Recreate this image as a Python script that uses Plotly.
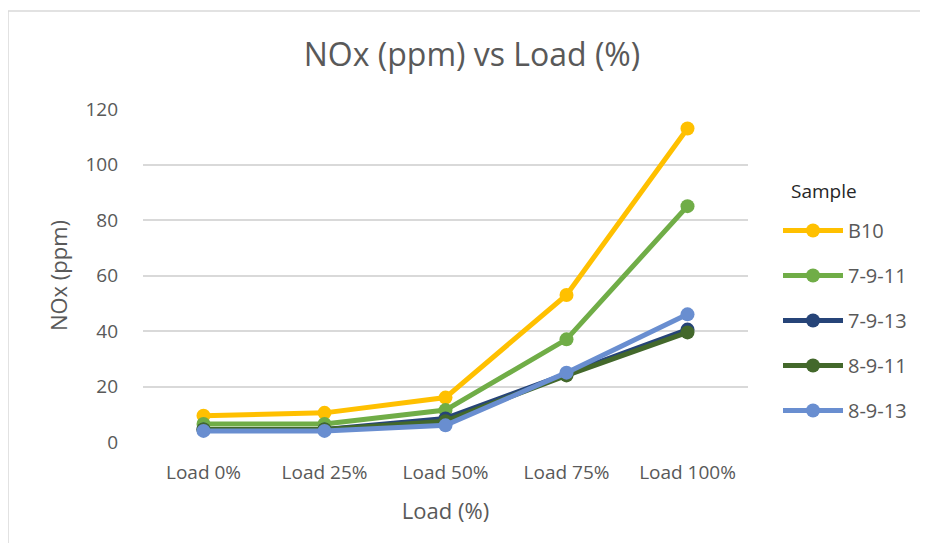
import plotly.graph_objects as go

categories = ["Load 0%", "Load 25%", "Load 50%", "Load 75%", "Load 100%"]
series_names = ["B10", "7-9-11", "7-9-13", "8-9-11", "8-9-13"]
b10 = [9.5, 10.5, 16, 53, 113]
s_7_9_11 = [6.5, 6.5, 11.5, 37, 85]
s_7_9_13 = [4.5, 4.5, 8.5, 24.5, 40.5]
s_8_9_11 = [4.5, 4.5, 7.5, 24, 39.5]
s_8_9_13 = [4, 4, 6, 25, 46]
y_ticks = [0, 20, 40, 60, 80, 100, 120]

colors = ["#FFC000", "#70AD47", "#264478", "#43682B", "#698ED0"]
values = [b10, s_7_9_11, s_7_9_13, s_8_9_11, s_8_9_13]

OFF = 8  # browser body margin
W, H = 920, 535
L, T = 143 - OFF, 109 - OFF
R = W - (748 - OFF)
B = H - (442 - OFF)
pw, ph = W - L - R, H - T - B

fig = go.Figure()
for name, vals, col in zip(series_names, values, colors):
    fig.add_trace(go.Scatter(
        x=categories, y=vals, name=name, mode="lines+markers",
        line=dict(color=col, width=5), marker=dict(color=col, size=14),
        legendgroup=name,
    ))

font = "Open Sans"
grey = "#595959"

def px_x(x):
    return (x - OFF - L) / pw

def px_y(y):
    return 1 - (y - OFF - T) / ph

def cx(x):
    return (x - OFF) / W

def cy(y):
    return 1 - (y - OFF) / H

fig.update_layout(
    width=W, height=H,
    margin=dict(l=L, r=R, t=T, b=B),
    paper_bgcolor="white", plot_bgcolor="white",
    title=dict(text="NOx (ppm) vs Load (%)", x=cx(472), xanchor="center",
               y=cy(55), yanchor="middle",
               font=dict(family=font, size=32, color=grey)),
    xaxis=dict(showgrid=False, showline=False, zeroline=False, ticks="",
               tickfont=dict(family=font, size=19, color=grey), ticklabelstandoff=17,
               title=dict(text="Load (%)", font=dict(family=font, size=22, color=grey), standoff=19),
               range=[-0.5, 4.5]),
    yaxis=dict(range=[0, 120], tickvals=y_ticks, showgrid=True, gridcolor="#D9D9D9", gridwidth=2,
               zeroline=False, showline=False, ticks="",
               tickfont=dict(family=font, size=19, color=grey), ticklabelstandoff=24,
               title=dict(text="NOx (ppm)", font=dict(family=font, size=22, color=grey), standoff=11)),
    legend=dict(xref="container", yref="container", x=cx(778), xanchor="left",
                y=cy(211), yanchor="top",
                font=dict(family=font, size=20, color=grey),
                traceorder="grouped", tracegroupgap=16, itemwidth=60),
    annotations=[dict(text="Sample", xref="paper", yref="paper", x=px_x(789), y=px_y(191),
                      xanchor="left", yanchor="middle", showarrow=False,
                      font=dict(family=font, size=19, color="#262626"))],
    shapes=[
        dict(type="line", xref="paper", yref="paper",
             x0=px_x(8), x1=px_x(8), y0=px_y(11), y1=px_y(560),
             line=dict(color="#D9D9D9", width=1.5), layer="below"),
        dict(type="line", xref="paper", yref="paper",
             x0=px_x(8), x1=px_x(940), y0=px_y(11), y1=px_y(11),
             line=dict(color="#D9D9D9", width=1.5), layer="below"),
    ],
)

fig.write_html("out.html")
